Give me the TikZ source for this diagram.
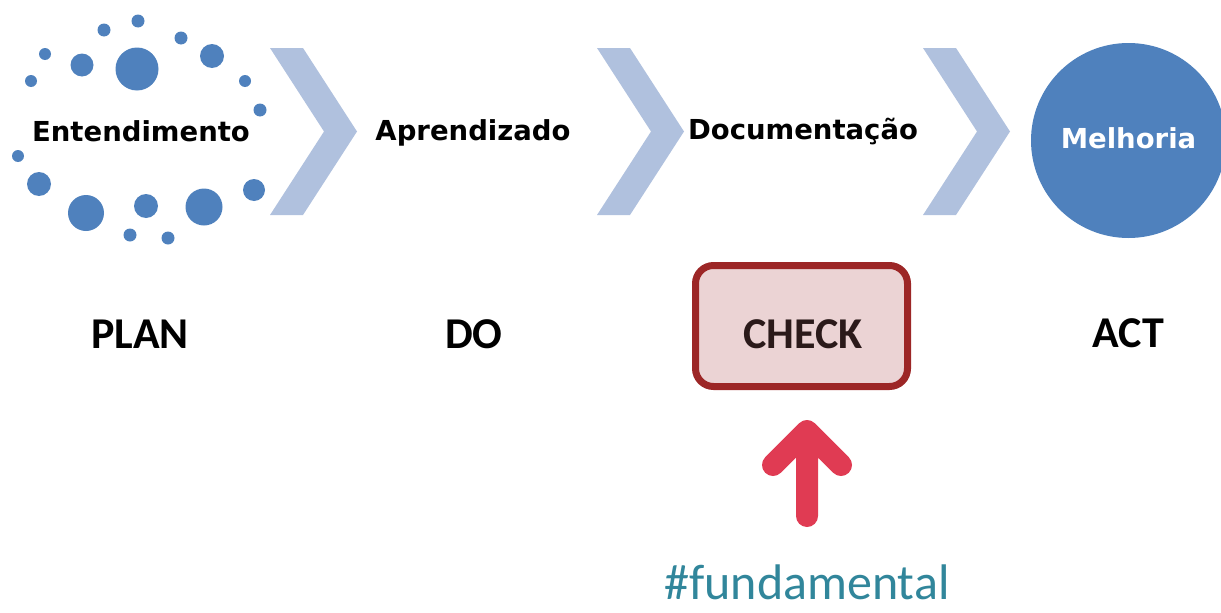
\documentclass[tikz,border=0pt]{standalone}
\usepackage{fontspec}
\setmainfont{Carlito}
\newfontfamily\phasefont{DejaVu Sans}
\usepackage{xcolor}
\usetikzlibrary{positioning}

\definecolor{dotblue}{HTML}{4F81BD}
\definecolor{chevblue}{HTML}{B0C1DE}
\definecolor{checkfill}{HTML}{EBD3D4}
\definecolor{checkdraw}{HTML}{9C2626}
\definecolor{arrowred}{HTML}{E03B53}
\definecolor{hashteal}{HTML}{31869B}

\tikzset{
  phase/.style={anchor=base, font=\phasefont\bfseries\fontsize{27.5}{32}\selectfont},
  pdca/.style={anchor=base, font=\bfseries\fontsize{44}{50}\selectfont},
  chevron/.style={fill=chevblue},
}

\begin{document}
\begin{tikzpicture}[x=1pt, y=-1pt]
  \useasboundingbox (0,0) rectangle (1221,613);

  % dots round the first phase
  \foreach \x/\y/\r in {137/69/21.5, 82/65/11.5, 138/21/6.5, 104/30/6.5, 181/38/6.5,
      212/56/12, 45/54/6, 31/81/6, 245/81/6, 260/110/6.5, 18/156/6,
      39/184/12, 86/213/18, 146/206/12, 204/207/18.5, 254/190/11,
      130/235/6.5, 168/238/6.5}
    \fill [dotblue] (\x,\y) circle [radius=\r pt];

  % chevrons between the phases
  \foreach \x in {270, 597, 923}
    \fill [chevron] (\x,48) -- (\x+33,48) -- (\x+87,131.5) -- (\x+33,215)
      -- (\x,215) -- (\x+54,131.5) -- cycle;

  \node [phase] (entend) at (141,141.5) {Entendimento};
  \node [phase] (aprend) at (473,140.5) {Aprendizado};
  \node [phase] (docum) at (803,139) {Documentação};
  \node [circle, fill=dotblue, minimum size=195pt, inner sep=0pt] (melhoria) at (1128.5,140.5) {};
  \node [phase, text=white] (melhoria text) at (1128.5,148) {Melhoria};

  \node [pdca] (plan) at (140,348) {PLAN};
  \node [pdca] (do) at (474,348) {DO};
  \node [pdca] (act) at (1128.5,347.5) {ACT};
  \draw [checkdraw, fill=checkfill, line width=7pt, rounded corners=18pt]
    (695.5,265.5) rectangle (907.5,386.5);
  \node [pdca, text={rgb,255:red,43;green,26;blue,26}] (check) at (803,348) {CHECK};

  % arrow pointing at check
  \coordinate (tip) at (807,431);
  \draw [arrowred, line width=22pt, line cap=round, line join=round]
    (807,516) -- (tip) (773,465) -- (tip) -- (841,465);

  \node [anchor=base, inner sep=0pt, text depth=0pt, text=hashteal,
    font=\fontsize{50}{56}\selectfont] (fund) at (807,599) {\#fundamental};
\end{tikzpicture}
\end{document}
